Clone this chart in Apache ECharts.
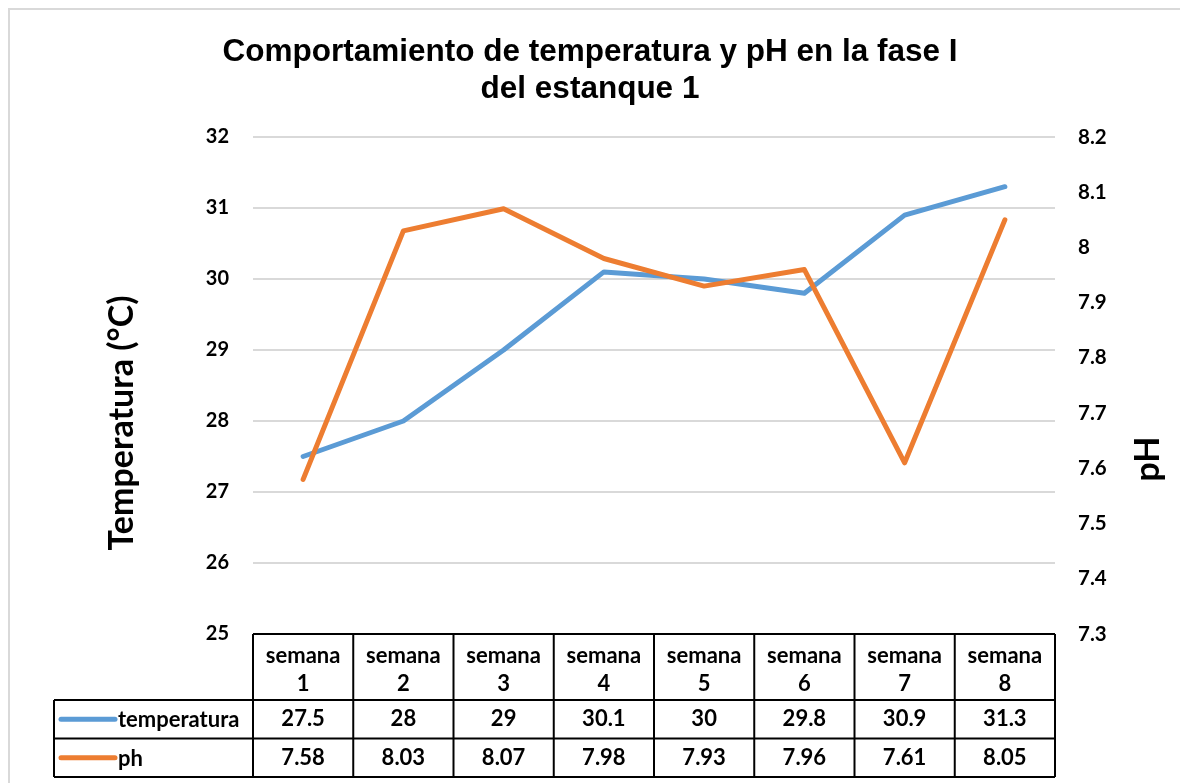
<!DOCTYPE html>
<html>
<head>
<meta charset="utf-8">
<script src="https://cdn.jsdelivr.net/npm/echarts@6/dist/echarts.min.js"></script>
<style>
  html, body { margin: 0; padding: 0; background: #fff; }
  #main { width: 1180px; height: 783px; }
</style>
</head>
<body>
<div id="main"></div>
<script>
var semanas = ['semana 1', 'semana 2', 'semana 3', 'semana 4', 'semana 5', 'semana 6', 'semana 7', 'semana 8'];
var temperatura = [27.5, 28, 29, 30.1, 30, 29.8, 30.9, 31.3];
var ph = [7.58, 8.03, 8.07, 7.98, 7.93, 7.96, 7.61, 8.05];
var serieNombres = ['temperatura', 'ph'];
var colores = ['#5B9BD5', '#ED7D31'];

var fuente = 'Lato';
var chart = echarts.init(document.getElementById('main'));

var option = {
  animation: false,
  title: {
    text: 'Comportamiento de temperatura y pH en la fase I\ndel estanque 1',
    left: 'center',
    top: 29,
    textStyle: {
      fontFamily: 'Liberation Sans',
      fontWeight: 'bold',
      fontSize: 31.5,
      lineHeight: 37,
      color: '#000'
    }
  },
  grid: { left: 253, right: 125, top: 137, bottom: 149 },
  xAxis: {
    type: 'category',
    data: semanas,
    boundaryGap: true,
    axisLine: { show: false },
    axisTick: { show: false },
    axisLabel: { show: false }
  },
  yAxis: [{
    type: 'value',
    min: 25, max: 32, interval: 1,
    axisLine: { show: false },
    axisTick: { show: false },
    splitLine: { lineStyle: { color: '#d9d9d9', width: 2 } },
    axisLabel: { margin: 24, color: '#000', fontFamily: fuente, fontWeight: 'bold', fontSize: 20 }
  }, {
    type: 'value',
    min: 7.3, max: 8.2, interval: 0.1,
    axisLine: { show: false },
    axisTick: { show: false },
    splitLine: { show: false },
    axisLabel: {
      margin: 23, color: '#000', fontFamily: fuente, fontWeight: 'bold', fontSize: 20.5,
      formatter: function (v) { return String(Math.round(v * 10) / 10); }
    }
  }],
  series: [{
    name: serieNombres[0],
    type: 'line',
    data: temperatura,
    yAxisIndex: 0,
    symbol: 'none',
    lineStyle: { color: colores[0], width: 5, cap: 'round', join: 'round' }
  }, {
    name: serieNombres[1],
    type: 'line',
    data: ph,
    yAxisIndex: 1,
    symbol: 'none',
    lineStyle: { color: colores[1], width: 5, cap: 'round', join: 'round' }
  }]
};
chart.setOption(option);

// tabla de datos bajo el eje, a partir de las posiciones del eje
function tabla() {
  var els = [];
  var x0 = chart.convertToPixel({ xAxisIndex: 0 }, 0);
  var x1 = chart.convertToPixel({ xAxisIndex: 0 }, 1);
  var ancho = x1 - x0;
  var izq = x0 - ancho / 2;
  var der = izq + ancho * semanas.length;
  var yTop = chart.convertToPixel({ yAxisIndex: 0 }, 25);
  var yH = yTop + 66, yR1 = yH + 38.5, yR2 = yR1 + 38.5;
  var leyIzq = 54;
  var linea = { stroke: '#000', lineWidth: 2 };
  function l(a, b, c, d) {
    els.push({ type: 'line', shape: { x1: a, y1: b, x2: c, y2: d }, style: linea, z: 10 });
  }
  function t(txt, x, y, align) {
    els.push({ type: 'text', z: 11, style: {
      text: txt, x: x, y: y, align: align || 'center', verticalAlign: 'middle',
      fontFamily: fuente, fontWeight: 'bold', fontSize: 22, lineHeight: 28, fill: '#000'
    }});
  }
  l(izq, yTop, der, yTop);
  l(leyIzq, yH, der, yH);
  l(leyIzq, yR1, der, yR1);
  l(leyIzq, yR2, der, yR2);
  l(leyIzq, yH, leyIzq, yR2);
  for (var i = 0; i <= semanas.length; i++) {
    l(izq + ancho * i, yTop, izq + ancho * i, yR2);
  }
  var filas = [temperatura, ph];
  var ys = [(yH + yR1) / 2, (yR1 + yR2) / 2];
  for (var i = 0; i < semanas.length; i++) {
    var cx = chart.convertToPixel({ xAxisIndex: 0 }, i);
    t(semanas[i].replace(' ', '\n'), cx, (yTop + yH) / 2 + 3);
    t(String(filas[0][i]), cx, ys[0]);
    t(String(filas[1][i]), cx, ys[1]);
  }
  for (var k = 0; k < 2; k++) {
    els.push({ type: 'line', z: 11, shape: { x1: 61, y1: ys[k], x2: 115, y2: ys[k] },
      style: { stroke: colores[k], lineWidth: 5, lineCap: 'round' } });
    t(serieNombres[k], 118, ys[k] + 1, 'left');
  }
  // nombres de ejes
  els.push({ type: 'text', rotation: Math.PI / 2, x: 122, y: 423, style: {
    text: 'Temperatura (°C)', align: 'center', verticalAlign: 'middle',
    fontFamily: fuente, fontWeight: 'bold', fontSize: 34, fill: '#000' } });
  els.push({ type: 'text', rotation: Math.PI / 2, x: 1148, y: 459, style: {
    text: 'pH', align: 'center', verticalAlign: 'middle',
    fontFamily: fuente, fontWeight: 'bold', fontSize: 34, fill: '#000' } });
  // marco
  els.push({ type: 'polyline', shape: { points: [[9, 783], [9, 9], [1180, 9]] },
    style: { stroke: '#d9d9d9', lineWidth: 2, fill: null } });
  chart.setOption({ graphic: { elements: els } });
}
tabla();
</script>
</body>
</html>
